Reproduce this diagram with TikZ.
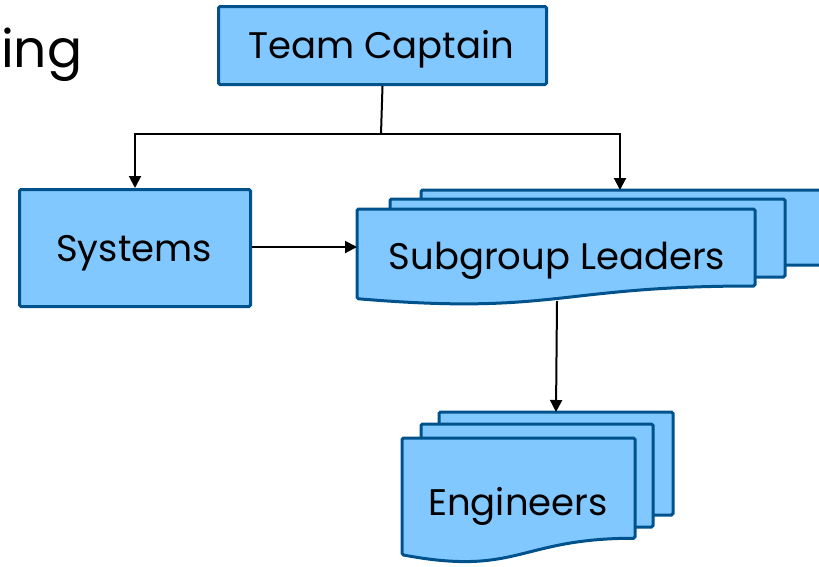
\documentclass[tikz,border=0pt]{standalone}
\usepackage{fontspec}
\setmainfont{Poppins}
\usetikzlibrary{arrows.meta}
\definecolor{docfill}{RGB}{128,200,255}
\definecolor{docline}{RGB}{0,82,140}
\tikzset{
  box/.style={draw=docline,fill=docfill,line width=3pt,rounded corners=1.5pt},
  lbl/.style={font=\fontsize{37}{44}\selectfont,text=black,inner sep=0pt},
  conn/.style={line width=2pt,draw=black},
  arr/.style={conn,-{Triangle[length=12pt,width=12pt]}}
}
% doc shape: left, top, right, height (y downward)
\newcommand{\docshp}[4]{%
  \path[box] (#1,#2) -- (#3,#2) -- (#3,#2+0.802*#4)
    .. controls ({(#1+#3)/2},#2+0.802*#4) and ({(#1+#3)/2},#2+1.108*#4) .. (#1,#2+0.934*#4) -- cycle;}
\newcommand{\rectshp}[4]{%
  \path[box] (#1,#2) rectangle (#3,#4);}
\begin{document}
\begin{tikzpicture}[x=1pt,y=-1pt]
\useasboundingbox (0,0) rectangle (819,566);
% title fragment
\node[font=\fontsize{52}{60}\selectfont,anchor=base west,inner sep=0pt] (title) at (1,67) {ing};
% Team Captain
\node[box,minimum width=328pt,minimum height=78pt,anchor=north west,inner sep=0pt] (tc) at (217,5) {};
\node[lbl] (tct) at (381,49) {Team Captain};
% Systems
\node[box,minimum width=231pt,minimum height=117pt,anchor=north west,inner sep=0pt] (sys) at (18,188) {};
\node[lbl] (syst) at (134,253) {Systems};
% Subgroup leaders stack
\rectshp{421}{190}{830}{265}
\rectshp{390}{199}{785}{277}
\docshp{357}{209}{755}{96}
\coordinate (sgtop) at (620,190);
\coordinate (sgleft) at (357,247);
\coordinate (sgbot) at (557,301);
\node[lbl] (sgt) at (557,261) {Subgroup Leaders};
% Engineers stack
\rectshp{439}{412}{673}{515}
\rectshp{421}{424}{653}{527}
\docshp{402}{438}{635}{125}
\coordinate (engtop) at (556,412);
\node[lbl] (engt) at (518,506) {Engineers};
% connectors
\coordinate (split) at (381,134);
\draw[conn] (tc.south) -- (split);
\draw[arr] (split) -| (sys.north);
\draw[arr] (split) -| (sgtop);
\draw[arr] (sys.east|-sgleft) -- (sgleft);
\draw[arr] (sgbot) -- (engtop);
\end{tikzpicture}
\end{document}
